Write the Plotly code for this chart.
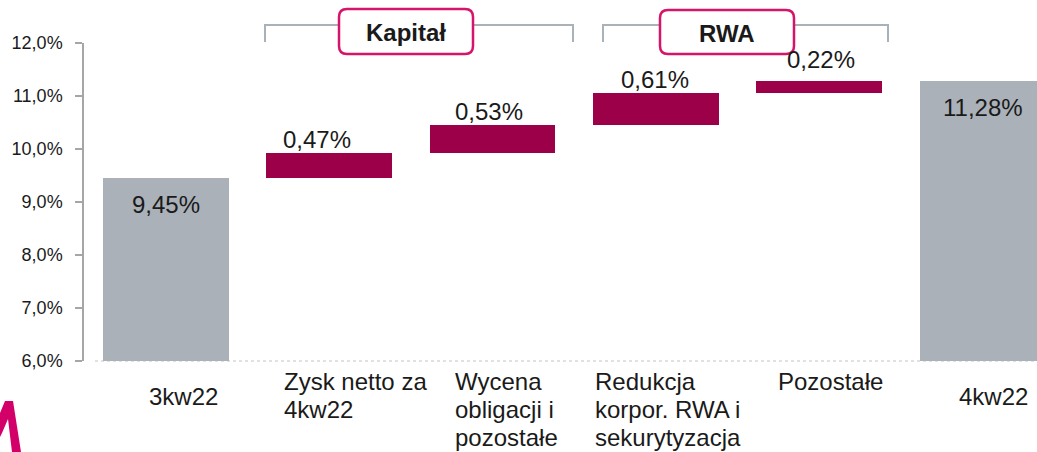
import numpy as np
import plotly.graph_objects as go

# ---------------- data ----------------
categories = ["3kw22", "Zysk netto za\n4kw22", "Wycena\nobligacji i\npozostałe",
              "Redukcja\nkorpor. RWA i\nsekurytyzacja", "Pozostałe", "4kw22"]
start_value = 9.45
deltas = [0.47, 0.53, 0.61, 0.22]
end_value = 11.28
axis_min = 6.0
axis_max = 12.0
y_ticks = [6, 7, 8, 9, 10, 11, 12]
y_tick_labels = ["6,0%", "7,0%", "8,0%", "9,0%", "10,0%", "11,0%", "12,0%"]
group_labels = ["Kapitał", "RWA"]

# ---------------- derived ----------------
n = len(categories)
xs = list(range(n))
cum = np.cumsum([start_value] + deltas)
bases = [axis_min] + list(cum[:-1]) + [axis_min]
tops = [start_value] + list(cum[1:]) + [end_value]
heights = [t - b for t, b in zip(tops, bases)]
values = [start_value] + deltas + [end_value]
is_total = [True] + [False] * len(deltas) + [True]

GRAY = "#aab1b9"
CRIMSON = "#9b0048"
PINK = "#d6146a"
TXT = "#1a1a1a"
FONT = "Liberation Sans"

W, H = 1037, 452
ML, MR, MT, MB = 84, 0, 43, 91
PW, PH = W - ML - MR, H - MT - MB
XR = [-0.5, -0.5 + PW / 163.4]


def px2x(px):
    return (px - ML) / 163.4 + XR[0]


def px2py(py):
    return (H - MB - py) / PH


def px2px_paper(px):
    return (px - ML) / PW


fig = go.Figure()
fig.add_trace(go.Bar(
    x=xs, y=heights, base=bases, width=0.77,
    marker=dict(color=[GRAY if t else CRIMSON for t in is_total], line=dict(width=0)),
    hoverinfo="skip", showlegend=False,
))

annotations = []
# value labels
val_dx = [0, -12, -4, -1, 2, 0]
val_dy = [-11, -2, -2, -2, 6, -11]
for i, (v, t) in enumerate(zip(values, tops)):
    txt = f"{v:.2f}".replace(".", ",") + "%"
    annotations.append(dict(
        x=i, y=t, xref="x", yref="y", text=txt, showarrow=False,
        xanchor="center", yanchor="top" if is_total[i] else "bottom",
        xshift=val_dx[i], yshift=val_dy[i],
        font=dict(family=FONT, size=24, color=TXT),
    ))

# category labels (left aligned, one annotation per line)
cat_dx = [-19, -47, -40, -63, -43, -26]
cat_first_dy = [-20, -5, -5, -5, -5, -20]
LINE = 28
for i, c in enumerate(categories):
    for j, line in enumerate(c.split("\n")):
        annotations.append(dict(
            x=i, y=0, xref="x", yref="paper", text=line, showarrow=False,
            xanchor="left", yanchor="top", xshift=cat_dx[i],
            yshift=cat_first_dy[i] - j * LINE,
            font=dict(family=FONT, size=24, color=TXT),
        ))

shapes = []
# brackets
brackets = [(265, 573), (603, 888)]
for a, b in brackets:
    x0, x1 = px2x(a), px2x(b)
    yl, yh = px2py(42), px2py(25)
    shapes.append(dict(type="path", xref="x", yref="paper",
                       path=f"M {x0},{yl} L {x0},{yh} L {x1},{yh} L {x1},{yl}",
                       line=dict(color="#a9b1b9", width=2), layer="above"))

# rounded label boxes
boxes = [(406, 31.5, 134, 45), (727, 32, 134, 44)]
for (cx, cy, bw, bh), lab in zip(boxes, group_labels):
    hw, hh, r = bw / 2, bh / 2, 8
    path = (f"M {-hw + r},{-hh} L {hw - r},{-hh} Q {hw},{-hh} {hw},{-hh + r} "
            f"L {hw},{hh - r} Q {hw},{hh} {hw - r},{hh} L {-hw + r},{hh} "
            f"Q {-hw},{hh} {-hw},{hh - r} L {-hw},{-hh + r} Q {-hw},{-hh} {-hw + r},{-hh} Z")
    shapes.append(dict(type="path", xref="x", yref="paper",
                       xsizemode="pixel", ysizemode="pixel",
                       xanchor=px2x(cx), yanchor=px2py(cy), path=path,
                       fillcolor="white", line=dict(color=PINK, width=2.5), layer="above"))
    annotations.append(dict(x=px2x(cx), y=px2py(cy + 1), xref="x", yref="paper",
                            text=f"<b>{lab}</b>", showarrow=False,
                            xanchor="center", yanchor="middle",
                            font=dict(family=FONT, size=24, color=TXT)))

# x axis baseline (dotted)
shapes.append(dict(type="line", xref="paper", yref="paper",
                   x0=px2px_paper(95), x1=1, y0=0, y1=0,
                   line=dict(color="#c4c4c4", width=1.2, dash="dot"), layer="below"))

# partial logo in the corner
logo_px = [(0, 413), (5, 401), (13, 401), (21, 452), (12, 452), (8, 419), (2, 433), (0, 437)]
lp = " L ".join(f"{px2px_paper(a)},{px2py(b)}" for a, b in logo_px)
shapes.append(dict(type="path", xref="paper", yref="paper", path=f"M {lp} Z",
                   fillcolor="#d4006a", line=dict(width=0)))

fig.update_layout(
    width=W, height=H,
    margin=dict(l=ML, r=MR, t=MT, b=MB, pad=0),
    paper_bgcolor="white", plot_bgcolor="white",
    bargap=0,
    xaxis=dict(range=XR, showticklabels=False, showgrid=False, zeroline=False,
               showline=False, ticks=""),
    yaxis=dict(range=[axis_min, axis_max], tickmode="array", tickvals=y_ticks,
               ticktext=y_tick_labels,
               showgrid=False, zeroline=False, showline=True, linecolor="#a6a6a6",
               linewidth=1.5, ticks="outside", ticklen=7, tickcolor="#a6a6a6",
               tickwidth=1.5, ticklabelstandoff=9,
               tickfont=dict(family=FONT, size=18, color=TXT)),
    annotations=annotations, shapes=shapes,
    font=dict(family=FONT, color=TXT),
)

fig.write_html("out.html", config={"displayModeBar": False},
               post_script="document.body.style.margin='0';")
